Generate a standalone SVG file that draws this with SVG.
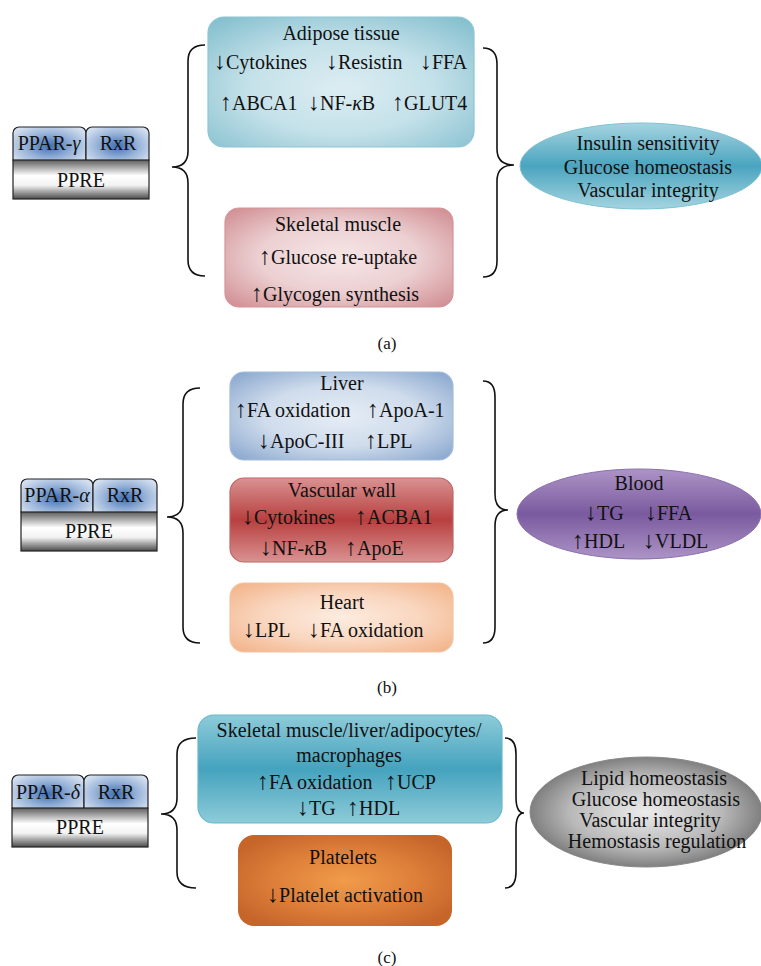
<svg xmlns="http://www.w3.org/2000/svg" width="761" height="966" viewBox="0 0 761 966">
<defs>
<radialGradient id="gBlue" cx="0.5" cy="0.5" r="0.6">
<stop offset="0" stop-color="#3f6fb3"/><stop offset="0.55" stop-color="#98b3d9"/><stop offset="1" stop-color="#d3dfef"/>
</radialGradient>
<linearGradient id="gPPRE" x1="0" y1="0" x2="0" y2="1">
<stop offset="0" stop-color="#5e5e5e"/><stop offset="0.4" stop-color="#ffffff"/><stop offset="0.65" stop-color="#f2f2f2"/><stop offset="1" stop-color="#4a4a4a"/>
</linearGradient>
<radialGradient id="gAdipose" cx="0.5" cy="0.55" r="0.7">
<stop offset="0" stop-color="#dcedf2"/><stop offset="0.5" stop-color="#c4e1e9"/><stop offset="1" stop-color="#86c0cf"/>
</radialGradient>
<radialGradient id="gMuscle" cx="0.5" cy="0.5" r="0.7">
<stop offset="0" stop-color="#f6e6e7"/><stop offset="0.5" stop-color="#ecd0d2"/><stop offset="1" stop-color="#cf8a8e"/>
</radialGradient>
<radialGradient id="gLiver" cx="0.5" cy="0.5" r="0.7">
<stop offset="0" stop-color="#e6edf5"/><stop offset="0.5" stop-color="#cfdcec"/><stop offset="1" stop-color="#86a4cd"/>
</radialGradient>
<linearGradient id="gVasc" x1="0" y1="0" x2="0" y2="1">
<stop offset="0" stop-color="#da9292"/><stop offset="0.5" stop-color="#b7403f"/><stop offset="1" stop-color="#da9292"/>
</linearGradient>
<radialGradient id="gHeart" cx="0.5" cy="0.5" r="0.7">
<stop offset="0" stop-color="#fdece0"/><stop offset="0.5" stop-color="#f9d6bf"/><stop offset="1" stop-color="#f2b185"/>
</radialGradient>
<linearGradient id="gTealC" x1="0" y1="0" x2="0" y2="1">
<stop offset="0" stop-color="#8ecbd9"/><stop offset="0.5" stop-color="#45a3be"/><stop offset="1" stop-color="#8ecbd9"/>
</linearGradient>
<radialGradient id="gPlate" cx="0.5" cy="0.5" r="0.6">
<stop offset="0" stop-color="#f09c4a"/><stop offset="0.6" stop-color="#dc7c38"/><stop offset="1" stop-color="#c5652a"/>
</radialGradient>
<linearGradient id="gEllA" x1="0" y1="0" x2="0" y2="1">
<stop offset="0" stop-color="#a5d4e0"/><stop offset="0.5" stop-color="#4aa4bf"/><stop offset="1" stop-color="#a5d4e0"/>
</linearGradient>
<linearGradient id="gEllB" x1="0" y1="0" x2="0" y2="1">
<stop offset="0" stop-color="#ad94c6"/><stop offset="0.5" stop-color="#7a5a9f"/><stop offset="1" stop-color="#ad94c6"/>
</linearGradient>
<radialGradient id="gEllC" cx="0.5" cy="0.5" r="0.55">
<stop offset="0" stop-color="#ececec"/><stop offset="0.6" stop-color="#b8b8b8"/><stop offset="1" stop-color="#6f6f6f"/>
</radialGradient>
</defs>
<style>
text{font-family:"Liberation Serif","Times New Roman",serif;font-size:20px;fill:#111;}
.c{text-anchor:middle;}
.lab{font-size:17px;}
.ar{font-size:24px;}
.ppar{fill:url(#gBlue);stroke:#222;stroke-width:1.2;}
.ppre{fill:url(#gPPRE);stroke:#222;stroke-width:1.2;}
.brace{fill:none;stroke:#111;stroke-width:1.6;}
</style>
<rect width="761" height="966" fill="#fff"/>

<!-- Panel (a) -->
<g id="receptor-a">
<rect class="ppar" x="13" y="127" width="73" height="38" rx="6"/>
<rect class="ppar" x="86" y="127" width="63" height="38" rx="6"/>
<rect class="ppre" x="13" y="160" width="136" height="39"/>
<text class="c" x="49" y="150">PPAR-<tspan font-style="italic">γ</tspan></text>
<text class="c" x="118" y="150">RxR</text>
<text class="c" x="81" y="187">PPRE</text>
</g>
<g id="adipose">
<rect x="208" y="17" width="266" height="130" rx="16" fill="url(#gAdipose)" stroke="#8cc6d4" stroke-width="1.2"/>
<text class="c" x="341" y="40">Adipose tissue</text>
<text x="214" y="69"><tspan class="ar">↓</tspan>Cytokines</text>
<text x="326" y="69"><tspan class="ar">↓</tspan>Resistin</text>
<text x="420" y="69"><tspan class="ar">↓</tspan>FFA</text>
<text x="220" y="110"><tspan class="ar">↑</tspan>ABCA1</text>
<text x="308" y="110"><tspan class="ar">↓</tspan>NF-<tspan font-style="italic">κ</tspan>B</text>
<text x="392" y="110"><tspan class="ar">↑</tspan>GLUT4</text>
</g>
<g id="muscle">
<rect x="225" y="208" width="228" height="99" rx="14" fill="url(#gMuscle)" stroke="#d49498" stroke-width="1.2"/>
<text class="c" x="338" y="231">Skeletal muscle</text>
<text class="c" x="338" y="264"><tspan class="ar">↑</tspan>Glucose re-uptake</text>
<text class="c" x="335" y="301"><tspan class="ar">↑</tspan>Glycogen synthesis</text>
</g>
<g id="outcome-a">
<ellipse cx="641" cy="166" rx="121" ry="43" fill="url(#gEllA)" stroke="#7fc3d3" stroke-width="1"/>
<text class="c" x="648" y="150">Insulin sensitivity</text>
<text class="c" x="648" y="174">Glucose homeostasis</text>
<text class="c" x="648" y="197">Vascular integrity</text>
</g>
<text class="c lab" x="387" y="349">(a)</text>

<!-- Panel (b) -->
<g id="receptor-b">
<rect class="ppar" x="21" y="479" width="72" height="38" rx="6"/>
<rect class="ppar" x="93" y="479" width="64" height="38" rx="6"/>
<rect class="ppre" x="21" y="512" width="136" height="39"/>
<text class="c" x="57" y="502">PPAR-<tspan font-style="italic">α</tspan></text>
<text class="c" x="125" y="502">RxR</text>
<text class="c" x="89" y="538">PPRE</text>
</g>
<g id="liver">
<rect x="230" y="372" width="223" height="88" rx="14" fill="url(#gLiver)" stroke="#a3bddc" stroke-width="1.2"/>
<text class="c" x="342" y="390">Liver</text>
<text x="235" y="417"><tspan class="ar">↑</tspan>FA oxidation</text>
<text x="367" y="417"><tspan class="ar">↑</tspan>ApoA-1</text>
<text x="258" y="448"><tspan class="ar">↓</tspan>ApoC-III</text>
<text x="365" y="448"><tspan class="ar">↑</tspan>LPL</text>
</g>
<g id="vascular">
<rect x="230" y="478" width="223" height="84" rx="14" fill="url(#gVasc)" stroke="#c06767" stroke-width="1.2"/>
<text class="c" x="342" y="497">Vascular wall</text>
<text x="242" y="524"><tspan class="ar">↓</tspan>Cytokines</text>
<text x="355" y="524"><tspan class="ar">↑</tspan>ACBA1</text>
<text x="260" y="555"><tspan class="ar">↓</tspan>NF-<tspan font-style="italic">κ</tspan>B</text>
<text x="345" y="555"><tspan class="ar">↑</tspan>ApoE</text>
</g>
<g id="heart">
<rect x="230" y="583" width="223" height="69" rx="14" fill="url(#gHeart)" stroke="#f2c4a2" stroke-width="1.2"/>
<text class="c" x="342" y="609">Heart</text>
<text x="243" y="637"><tspan class="ar">↓</tspan>LPL</text>
<text x="308" y="637"><tspan class="ar">↓</tspan>FA oxidation</text>
</g>
<g id="outcome-b">
<ellipse cx="639" cy="514" rx="122" ry="45" fill="url(#gEllB)" stroke="#8a70ad" stroke-width="1"/>
<text class="c" x="639" y="490">Blood</text>
<text x="585" y="520"><tspan class="ar">↓</tspan>TG</text>
<text x="645" y="520"><tspan class="ar">↓</tspan>FFA</text>
<text x="572" y="548"><tspan class="ar">↑</tspan>HDL</text>
<text x="643" y="548"><tspan class="ar">↓</tspan>VLDL</text>
</g>
<text class="c lab" x="387" y="693">(b)</text>

<!-- Panel (c) -->
<g id="receptor-c">
<rect class="ppar" x="12" y="775" width="72" height="38" rx="6"/>
<rect class="ppar" x="84" y="775" width="64" height="38" rx="6"/>
<rect class="ppre" x="12" y="808" width="136" height="39"/>
<text class="c" x="48" y="799">PPAR-<tspan font-style="italic">δ</tspan></text>
<text class="c" x="116" y="799">RxR</text>
<text class="c" x="80" y="834">PPRE</text>
</g>
<g id="multi-tissue">
<rect x="198" y="715" width="304" height="108" rx="16" fill="url(#gTealC)" stroke="#68b8cc" stroke-width="1.2"/>
<text class="c" x="349" y="737">Skeletal muscle/liver/adipocytes/</text>
<text class="c" x="349" y="762">macrophages</text>
<text x="257" y="789"><tspan class="ar">↑</tspan>FA oxidation</text>
<text x="385" y="789"><tspan class="ar">↑</tspan>UCP</text>
<text x="297" y="815"><tspan class="ar">↓</tspan>TG</text>
<text x="347" y="815"><tspan class="ar">↑</tspan>HDL</text>
</g>
<g id="platelets">
<rect x="238" y="835" width="214" height="91" rx="16" fill="url(#gPlate)"/>
<text class="c" x="343" y="864">Platelets</text>
<text class="c" x="345" y="902"><tspan class="ar">↓</tspan>Platelet activation</text>
</g>
<g id="outcome-c">
<ellipse cx="646" cy="812" rx="116" ry="55" fill="url(#gEllC)" stroke="#888" stroke-width="1"/>
<text class="c" x="654" y="785" font-size="19">Lipid homeostasis</text>
<text class="c" x="656" y="806" font-size="19">Glucose homeostasis</text>
<text class="c" x="650" y="827" font-size="18.5">Vascular integrity</text>
<text class="c" x="657" y="848" font-size="20">Hemostasis regulation</text>
</g>
<text class="c lab" x="387" y="963">(c)</text>

<g id="connectors">
<path class="brace" d="M205,45 Q188,45 188,61 L188,151 Q188,167 172,167 Q188,167 188,183 L188,260 Q188,276 205,276"/>
<path class="brace" d="M483,48 Q497,48 497,64 L497,149 Q497,165 514,165 Q497,165 497,181 L497,261 Q497,277 483,277"/>
<path class="brace" d="M200,388 Q183,388 183,404 L183,501 Q183,517 167,517 Q183,517 183,533 L183,627 Q183,643 200,643"/>
<path class="brace" d="M483,381 Q495,381 495,397 L495,494 Q495,510 508,510 Q495,510 495,526 L495,627 Q495,643 483,643"/>
<path class="brace" d="M196,738 Q177,738 177,754 L177,798 Q177,814 161,814 Q177,814 177,830 L177,872 Q177,888 196,888"/>
<path class="brace" d="M505,738 Q516,738 516,754 L516,797 Q516,813 524,813 Q516,813 516,829 L516,872 Q516,888 505,888"/>
</g>
</svg>
